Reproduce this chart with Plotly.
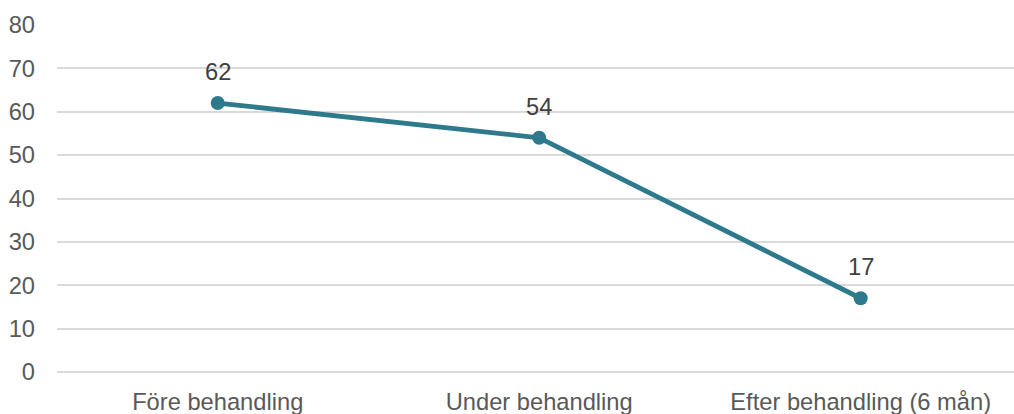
import plotly.graph_objects as go

categories = ["Före behandling", "Under behandling", "Efter behandling (6 mån)"]
values = [62, 54, 17]
y_ticks = [0, 10, 20, 30, 40, 50, 60, 70, 80]

color = "#2E7A8C"
fs = 23.7

fig = go.Figure()
fig.add_trace(go.Scatter(
    x=categories, y=values, mode="lines+markers",
    line=dict(color=color, width=4.8),
    marker=dict(color=color, size=14),
    hoverinfo="skip",
))

for c, v in zip(categories, values):
    fig.add_annotation(x=c, y=v, text=str(v), showarrow=False, yshift=31,
                       font=dict(family="Liberation Sans, Arial", size=fs, color="#404040"))

fig.update_layout(
    width=1014, height=414,
    margin=dict(l=57, r=0, t=25, b=42),
    paper_bgcolor="white", plot_bgcolor="white",
    showlegend=False,
    font=dict(family="Liberation Sans, Arial", size=fs, color="#595959"),
)
fig.update_xaxes(
    type="category", range=[-0.5, 2.477],
    showgrid=False, zeroline=False, showline=False,
    ticks="", ticklabelstandoff=13,
    tickfont=dict(size=fs, color="#595959"),
)
fig.update_yaxes(
    range=[0, 80], tickvals=y_ticks,
    showgrid=True, gridcolor="#D9D9D9", gridwidth=1.5,
    zeroline=True, zerolinecolor="#D9D9D9", zerolinewidth=1.5,
    showline=False,
    ticks="", ticklabelstandoff=21,
    tickfont=dict(size=fs, color="#595959"),
)

fig.write_html("out.html")
